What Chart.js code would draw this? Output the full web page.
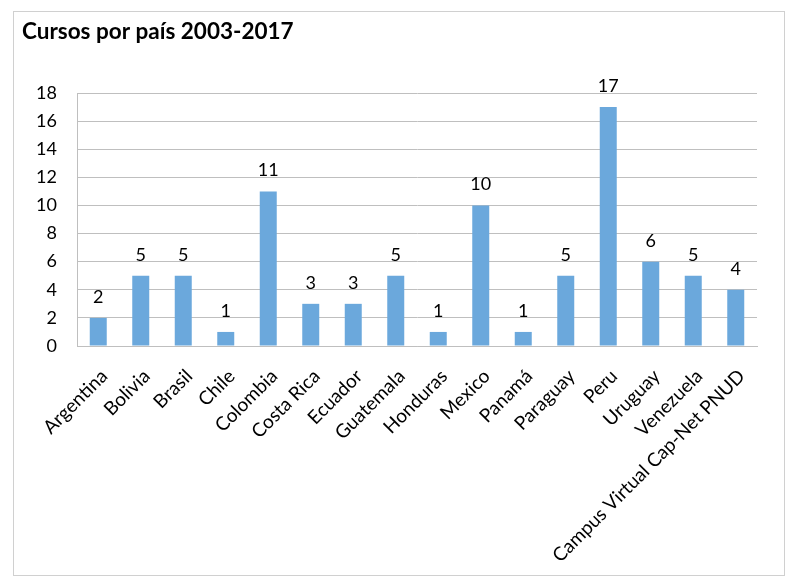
<!DOCTYPE html>
<html>
<head>
<meta charset="utf-8">
<script src="https://cdn.jsdelivr.net/npm/chart.js@4.4.1/dist/chart.umd.min.js"></script>
<style>
html,body{margin:0;padding:0;background:#fff;}
#wrap{position:relative;width:800px;height:588px;}
</style>
</head>
<body>
<div id="wrap"><canvas id="c" width="800" height="588"></canvas></div>
<script>
const categories = ["Argentina","Bolivia","Brasil","Chile","Colombia","Costa Rica","Ecuador","Guatemala","Honduras","Mexico","Panamá","Paraguay","Peru","Uruguay","Venezuela","Campus Virtual Cap-Net PNUD"];
const cursos = [2,5,5,1,11,3,3,5,1,10,1,5,17,6,5,4];
const titleText = "Cursos por país 2003-2017";
const yMin = 0, yMax = 18, yStep = 2;

const FONT = "Lato, 'Open Sans', sans-serif";

const framePlugin = {
  id: 'frame',
  beforeDraw(chart) {
    const ctx = chart.ctx;
    ctx.save();
    ctx.fillStyle = '#ffffff';
    ctx.fillRect(0, 0, chart.width, chart.height);
    ctx.strokeStyle = '#D0D0D0';
    ctx.lineWidth = 1;
    ctx.strokeRect(13.5, 11.5, 771, 564);
    ctx.restore();
  }
};

const valueLabels = {
  id: 'valueLabels',
  afterDatasetsDraw(chart) {
    const ctx = chart.ctx;
    const meta = chart.getDatasetMeta(0);
    ctx.save();
    ctx.fillStyle = '#000';
    ctx.font = "18px " + FONT;
    ctx.textAlign = 'center';
    ctx.textBaseline = 'alphabetic';
    meta.data.forEach((bar, i) => {
      ctx.fillText(String(chart.data.datasets[0].data[i]), bar.x, bar.y - 15);
    });
    ctx.restore();
  }
};

new Chart(document.getElementById('c'), {
  type: 'bar',
  data: {
    labels: categories,
    datasets: [{
      data: cursos,
      backgroundColor: '#6BA8DC',
      borderWidth: 0,
      barPercentage: 0.4,
      categoryPercentage: 1.0
    }]
  },
  options: {
    responsive: false,
    animation: false,
    devicePixelRatio: 1,
    layout: { padding: { left: 22, right: 43, top: 18, bottom: 0 } },
    plugins: {
      legend: { display: false },
      tooltip: { enabled: false },
      title: {
        display: true,
        text: titleText,
        align: 'start',
        color: '#000',
        font: { family: FONT, size: 22.5, weight: 'bold' },
        padding: { top: 0, bottom: 48 }
      }
    },
    scales: {
      y: {
        min: yMin, max: yMax,
        ticks: { stepSize: yStep, color: '#000', font: { family: FONT, size: 18 }, padding: 20 },
        grid: { color: '#BFBFBF', drawTicks: false, lineWidth: 1 },
        border: { display: true, color: '#BFBFBF' },
        afterFit(scale) { scale.width = 55; }
      },
      x: {
        ticks: { color: '#000', font: { family: FONT, size: 19 }, maxRotation: 45, minRotation: 45, autoSkip: false, padding: 19, labelOffset: 6 },
        grid: { display: false, drawTicks: false },
        border: { display: true, color: '#BFBFBF' },
        afterFit(scale) { scale.height = 242; }
      }
    }
  },
  plugins: [framePlugin, valueLabels]
});
</script>
</body>
</html>
